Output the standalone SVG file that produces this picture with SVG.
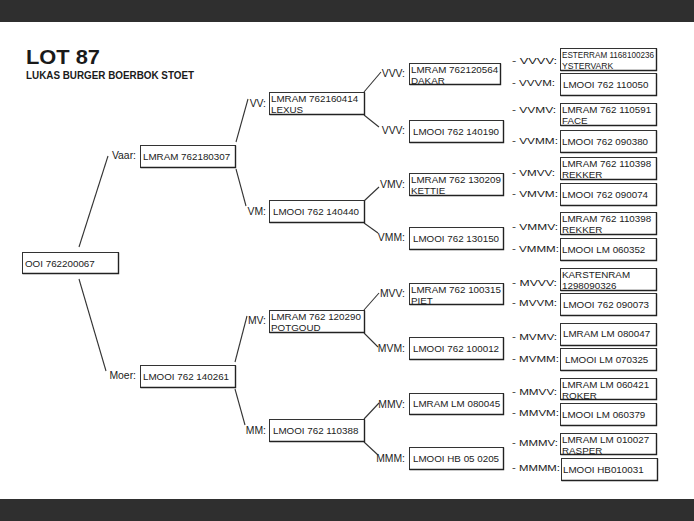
<svg xmlns="http://www.w3.org/2000/svg" width="694" height="521" viewBox="0 0 694 521">
<defs>
<style>
text{font-family:"Liberation Sans",Arial,sans-serif;font-size:9.8px;fill:#222}
.lbl{text-anchor:end;font-size:10.4px}
.dl{text-anchor:start;font-size:9.8px}
.box{fill:#fff;stroke:#333;stroke-width:1}
.sh{fill:none;stroke:#222;stroke-width:1.4}
.sm{font-size:8.6px}
#connectors line{stroke:#333;stroke-width:1.1}
</style>
</defs>
<rect x="0" y="0" width="694" height="521" fill="#fff"/>
<rect x="0" y="0" width="694" height="22" fill="#2f2f2f"/>
<rect x="0" y="499" width="694" height="22" fill="#2f2f2f"/>
<text x="26" y="64" style="font-size:20px;font-weight:900;fill:#1a1a1a" textLength="74" lengthAdjust="spacingAndGlyphs">LOT 87</text>
<text x="26" y="79" style="font-size:10px;font-weight:bold;fill:#1a1a1a" textLength="168" lengthAdjust="spacingAndGlyphs">LUKAS BURGER BOERBOK STOET</text>

<g id="connectors">
<line x1="79" y1="247" x2="108" y2="156"/>
<line x1="79" y1="279" x2="106" y2="371"/>
<line x1="236" y1="142" x2="248" y2="99"/>
<line x1="236" y1="169" x2="246" y2="206"/>
<line x1="235" y1="362" x2="247" y2="316"/>
<line x1="235" y1="389" x2="245" y2="425"/>
<line x1="364" y1="92" x2="381" y2="72"/>
<line x1="364" y1="115" x2="379" y2="127"/>
<line x1="364" y1="201" x2="379" y2="187"/>
<line x1="364" y1="223" x2="378" y2="233"/>
<line x1="364" y1="310" x2="379" y2="293"/>
<line x1="364" y1="333" x2="378" y2="347"/>
<line x1="364" y1="419" x2="379" y2="403"/>
<line x1="364" y1="442" x2="378" y2="455"/>
</g>

<g id="root"><rect class="box" x="22.5" y="252.5" width="96" height="21"/><polyline class="sh" points="22.5,273.5 118.5,273.5 118.5,252.5"/><text x="25" y="267">OOI 762200067</text></g>

<g id="vaar"><text class="lbl" x="136" y="158.5">Vaar:</text><rect class="box" x="140.5" y="145.5" width="95" height="22"/><polyline class="sh" points="140.5,167.5 235.5,167.5 235.5,145.5"/><text x="143" y="160">LMRAM 762180307</text></g>
<g id="moer"><text class="lbl" x="136" y="379">Moer:</text><rect class="box" x="140.5" y="365.5" width="95" height="22"/><polyline class="sh" points="140.5,387.5 235.5,387.5 235.5,365.5"/><text x="143" y="380">LMOOI 762 140261</text></g>

<g id="vv"><text class="lbl" x="266" y="106.5">VV:</text><rect class="box" x="269.5" y="92.5" width="95" height="22"/><polyline class="sh" points="269.5,114.5 364.5,114.5 364.5,92.5"/><text x="271" y="102">LMRAM 762160414</text><text x="271" y="113">LEXUS</text></g>
<g id="vm"><text class="lbl" x="266" y="214.5">VM:</text><rect class="box" x="269.5" y="200.5" width="95" height="22"/><polyline class="sh" points="269.5,222.5 364.5,222.5 364.5,200.5"/><text x="273" y="215">LMOOI 762 140440</text></g>
<g id="mv"><text class="lbl" x="266" y="323.5">MV:</text><rect class="box" x="269.5" y="310.5" width="95" height="22"/><polyline class="sh" points="269.5,332.5 364.5,332.5 364.5,310.5"/><text x="271" y="320">LMRAM 762 120290</text><text x="271" y="331">POTGOUD</text></g>
<g id="mm"><text class="lbl" x="266" y="433.5">MM:</text><rect class="box" x="269.5" y="419.5" width="95" height="22"/><polyline class="sh" points="269.5,441.5 364.5,441.5 364.5,419.5"/><text x="273" y="434">LMOOI 762 110388</text></g>

<g id="vvv1"><text class="lbl" x="405" y="76.5">VVV:</text><rect class="box" x="409.5" y="63.5" width="91" height="21"/><polyline class="sh" points="409.5,84.5 500.5,84.5 500.5,63.5"/><text x="411" y="73">LMRAM 762120564</text><text x="411" y="83.5">DAKAR</text></g>
<g id="vvv2"><text class="lbl" x="405" y="133.5">VVV:</text><rect class="box" x="409.5" y="120.5" width="94" height="22"/><polyline class="sh" points="409.5,142.5 503.5,142.5 503.5,120.5"/><text x="413" y="135">LMOOI 762 140190</text></g>
<g id="vmv"><text class="lbl" x="405" y="187.5">VMV:</text><rect class="box" x="409.5" y="173.5" width="94" height="22"/><polyline class="sh" points="409.5,195.5 503.5,195.5 503.5,173.5"/><text x="411" y="183">LMRAM 762 130209</text><text x="411" y="194">KETTIE</text></g>
<g id="vmm"><text class="lbl" x="405" y="240.5">VMM:</text><rect class="box" x="409.5" y="227.5" width="94" height="22"/><polyline class="sh" points="409.5,249.5 503.5,249.5 503.5,227.5"/><text x="413" y="242">LMOOI 762 130150</text></g>
<g id="mvv"><text class="lbl" x="405" y="296.5">MVV:</text><rect class="box" x="409.5" y="283.5" width="94" height="21"/><polyline class="sh" points="409.5,304.5 503.5,304.5 503.5,283.5"/><text x="411" y="293">LMRAM 762 100315</text><text x="411" y="303.5">PIET</text></g>
<g id="mvm"><text class="lbl" x="405" y="351.5">MVM:</text><rect class="box" x="409.5" y="337.5" width="94" height="22"/><polyline class="sh" points="409.5,359.5 503.5,359.5 503.5,337.5"/><text x="413" y="352">LMOOI 762 100012</text></g>
<g id="mmv"><text class="lbl" x="405" y="407.5">MMV:</text><rect class="box" x="409.5" y="393.5" width="94" height="21"/><polyline class="sh" points="409.5,414.5 503.5,414.5 503.5,393.5"/><text x="413" y="407">LMRAM LM 080045</text></g>
<g id="mmm"><text class="lbl" x="405" y="461.5">MMM:</text><rect class="box" x="409.5" y="447.5" width="94" height="22"/><polyline class="sh" points="409.5,469.5 503.5,469.5 503.5,447.5"/><text x="413" y="462">LMOOI HB 05 0205</text></g>

<g id="vvvv"><text class="dl" x="512" y="63.5" textLength="45" lengthAdjust="spacingAndGlyphs">- VVVV:</text><rect class="box" x="560.5" y="48.5" width="96" height="22"/><polyline class="sh" points="560.5,70.5 656.5,70.5 656.5,48.5"/><text class="sm" x="562" y="57.5" textLength="92" lengthAdjust="spacingAndGlyphs">ESTERRAM 1168100236</text><text class="sm" x="562" y="68.5">YSTERVARK</text></g>
<g id="vvvm"><text class="dl" x="512" y="85.5" textLength="43" lengthAdjust="spacingAndGlyphs">- VVVM:</text><rect class="box" x="560.5" y="73.5" width="96" height="22"/><polyline class="sh" points="560.5,95.5 656.5,95.5 656.5,73.5"/><text x="563" y="88">LMOOI 762 110050</text></g>
<g id="vvmv"><text class="dl" x="512" y="112.5" textLength="44" lengthAdjust="spacingAndGlyphs">- VVMV:</text><rect class="box" x="560.5" y="103.5" width="96" height="22"/><polyline class="sh" points="560.5,125.5 656.5,125.5 656.5,103.5"/><text x="562" y="113">LMRAM 762 110591</text><text x="562" y="124">FACE</text></g>
<g id="vvmm"><text class="dl" x="512" y="143.5" textLength="46" lengthAdjust="spacingAndGlyphs">- VVMM:</text><rect class="box" x="560.5" y="130.5" width="96" height="22"/><polyline class="sh" points="560.5,152.5 656.5,152.5 656.5,130.5"/><text x="562" y="145">LMOOI 762 090380</text></g>
<g id="vmvv"><text class="dl" x="512" y="175.5" textLength="43" lengthAdjust="spacingAndGlyphs">- VMVV:</text><rect class="box" x="560.5" y="157.5" width="96" height="22"/><polyline class="sh" points="560.5,179.5 656.5,179.5 656.5,157.5"/><text x="562" y="167">LMRAM 762 110398</text><text x="562" y="178">REKKER</text></g>
<g id="vmvm"><text class="dl" x="512" y="196.5" textLength="46" lengthAdjust="spacingAndGlyphs">- VMVM:</text><rect class="box" x="560.5" y="183.5" width="96" height="22"/><polyline class="sh" points="560.5,205.5 656.5,205.5 656.5,183.5"/><text x="562" y="198">LMOOI 762 090074</text></g>
<g id="vmmv"><text class="dl" x="512" y="229.5" textLength="46" lengthAdjust="spacingAndGlyphs">- VMMV:</text><rect class="box" x="560.5" y="212.5" width="96" height="22"/><polyline class="sh" points="560.5,234.5 656.5,234.5 656.5,212.5"/><text x="562" y="222">LMRAM 762 110398</text><text x="562" y="233">REKKER</text></g>
<g id="vmmm"><text class="dl" x="512" y="251.5" textLength="47" lengthAdjust="spacingAndGlyphs">- VMMM:</text><rect class="box" x="560.5" y="238.5" width="96" height="22"/><polyline class="sh" points="560.5,260.5 656.5,260.5 656.5,238.5"/><text x="562" y="253">LMOOI LM 060352</text></g>
<g id="mvvv"><text class="dl" x="512" y="285.5" textLength="45" lengthAdjust="spacingAndGlyphs">- MVVV:</text><rect class="box" x="560.5" y="268.5" width="96" height="22"/><polyline class="sh" points="560.5,290.5 656.5,290.5 656.5,268.5"/><text x="562" y="278">KARSTENRAM</text><text x="562" y="289">1298090326</text></g>
<g id="mvvm"><text class="dl" x="512" y="305.5" textLength="45" lengthAdjust="spacingAndGlyphs">- MVVM:</text><rect class="box" x="560.5" y="293.5" width="96" height="22"/><polyline class="sh" points="560.5,315.5 656.5,315.5 656.5,293.5"/><text x="563" y="308">LMOOI 762 090073</text></g>
<g id="mvmv"><text class="dl" x="512" y="339.5" textLength="45" lengthAdjust="spacingAndGlyphs">- MVMV:</text><rect class="box" x="560.5" y="323.5" width="96" height="22"/><polyline class="sh" points="560.5,345.5 656.5,345.5 656.5,323.5"/><text x="563" y="337">LMRAM LM 080047</text></g>
<g id="mvmm"><text class="dl" x="512" y="361.5" textLength="47" lengthAdjust="spacingAndGlyphs">- MVMM:</text><rect class="box" x="560.5" y="348.5" width="96" height="22"/><polyline class="sh" points="560.5,370.5 656.5,370.5 656.5,348.5"/><text x="565" y="363">LMOOI LM 070325</text></g>
<g id="mmvv"><text class="dl" x="512" y="394.5" textLength="45" lengthAdjust="spacingAndGlyphs">- MMVV:</text><rect class="box" x="560.5" y="378.5" width="96" height="21"/><polyline class="sh" points="560.5,399.5 656.5,399.5 656.5,378.5"/><text x="562" y="388">LMRAM LM 060421</text><text x="562" y="398.5">ROKER</text></g>
<g id="mmvm"><text class="dl" x="512" y="415.5" textLength="47" lengthAdjust="spacingAndGlyphs">- MMVM:</text><rect class="box" x="560.5" y="403.5" width="96" height="22"/><polyline class="sh" points="560.5,425.5 656.5,425.5 656.5,403.5"/><text x="562" y="418">LMOOI LM 060379</text></g>
<g id="mmmv"><text class="dl" x="512" y="445.5" textLength="46" lengthAdjust="spacingAndGlyphs">- MMMV:</text><rect class="box" x="560.5" y="433.5" width="96" height="21"/><polyline class="sh" points="560.5,454.5 656.5,454.5 656.5,433.5"/><text x="562" y="443">LMRAM LM 010027</text><text x="562" y="453.5">RASPER</text></g>
<g id="mmmm"><text class="dl" x="512" y="470.5" textLength="48" lengthAdjust="spacingAndGlyphs">- MMMM:</text><rect class="box" x="561.5" y="458.5" width="96" height="22"/><polyline class="sh" points="561.5,480.5 657.5,480.5 657.5,458.5"/><text x="563" y="473">LMOOI HB010031</text></g>
</svg>
